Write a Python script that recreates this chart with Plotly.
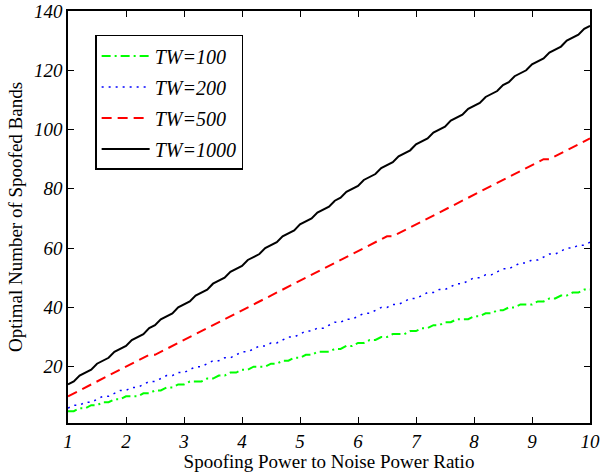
import numpy as np
import plotly.graph_objects as go

# x grid (Spoofing Power to Noise Power Ratio)
snr = np.round(np.arange(1.0, 10.0001, 0.1), 1)

tw100 = [5, 5, 6, 6, 7, 7, 8, 8, 9, 9,
         10, 10, 10, 11, 11, 12, 12, 13, 13, 14,
         14, 15, 15, 15, 16, 16, 17, 17, 18, 18,
         19, 19, 20, 20, 20, 21, 21, 22, 22, 23,
         23, 24, 24, 25, 25, 25, 26, 26, 27, 27,
         28, 28, 29, 29, 30, 30, 31, 31, 31, 32,
         32, 33, 33, 34, 34, 35, 35, 36, 36, 36,
         37, 37, 38, 38, 39, 39, 40, 40, 41, 41,
         41, 42, 42, 43, 43, 44, 44, 45, 45, 46, 46]
tw200 = [6, 7, 7, 8, 8, 9, 10, 10, 11, 12,
         12, 13, 13, 14, 15, 15, 16, 17, 17, 18,
         18, 19, 20, 20, 21, 22, 22, 23, 23, 24,
         25, 25, 26, 27, 27, 28, 28, 29, 30, 30,
         31, 32, 32, 33, 33, 34, 35, 35, 36, 36,
         37, 38, 38, 39, 40, 40, 41, 41, 42, 43,
         43, 44, 45, 45, 46, 46, 47, 48, 48, 49,
         50, 50, 51, 51, 52, 53, 53, 54, 55, 55,
         56, 56, 57, 58, 58, 59, 60, 60, 61, 61, 62]
tw500 = [10, 11, 12, 13, 14, 15, 16, 17, 18, 19,
         20, 21, 22, 23, 24, 24, 25, 26, 27, 28,
         29, 30, 31, 32, 33, 34, 35, 36, 37, 38,
         39, 40, 41, 42, 43, 44, 45, 46, 47, 48,
         49, 50, 51, 52, 53, 54, 55, 56, 57, 58,
         59, 60, 61, 62, 63, 64, 64, 65, 66, 67,
         68, 69, 70, 71, 72, 73, 74, 75, 76, 77,
         78, 79, 80, 81, 82, 83, 84, 85, 86, 87,
         88, 89, 90, 90, 91, 92, 93, 94, 95, 96, 97]
tw1000 = [14, 15, 17, 18, 19, 21, 22, 23, 25, 26,
          27, 29, 30, 31, 33, 34, 36, 37, 38, 40,
          41, 42, 44, 45, 46, 48, 49, 50, 52, 53,
          54, 56, 57, 58, 60, 61, 62, 64, 65, 66,
          68, 69, 70, 72, 73, 74, 76, 77, 79, 80,
          81, 83, 84, 85, 87, 88, 89, 91, 92, 93,
          95, 96, 97, 99, 100, 101, 103, 104, 105, 107,
          108, 109, 111, 112, 113, 115, 116, 118, 119, 120,
          122, 123, 124, 126, 127, 128, 130, 131, 132, 134, 135]

names = ["TW=100", "TW=200", "TW=500", "TW=1000"]
series = [tw100, tw200, tw500, tw1000]
colors = ["#00ff00", "#0000ff", "#ff0000", "#000000"]
dashes = ["9px,4px,2px,4px", "2px,5px", "10px,6px", "solid"]
widths = [2, 1.5, 2, 2]

xticks = [1, 2, 3, 4, 5, 6, 7, 8, 9, 10]
yticks = [20, 40, 60, 80, 100, 120, 140]

FONT = "Liberation Serif"

fig = go.Figure()
for i, (n, s, c, d, w) in enumerate(zip(names, series, colors, dashes, widths)):
    fig.add_trace(go.Scatter(x=snr, y=s, mode="lines", name=n,
                             legendgroup=f"g{i}",
                             line=dict(color=c, dash=d, width=w)))

axis_common = dict(showline=True, linecolor="black", linewidth=1.5,
                   mirror="ticks", ticks="inside", ticklen=6,
                   tickcolor="black", tickwidth=1, showgrid=False,
                   zeroline=False, automargin=False,
                   tickfont=dict(family=FONT, size=19, color="black", style="italic"))

fig.update_layout(
    width=600, height=472,
    margin=dict(l=68, r=10, t=11, b=49),
    paper_bgcolor="white", plot_bgcolor="white",
    font=dict(family=FONT, color="black"),
    xaxis=dict(range=[1, 10], tickvals=xticks,
               title=dict(text="Spoofing Power to Noise Power Ratio",
                          font=dict(family=FONT, size=19), standoff=0),
               **axis_common),
    yaxis=dict(range=[1, 140], tickvals=yticks,
               title=dict(text="Optimal Number of Spoofed Bands",
                          font=dict(family=FONT, size=19), standoff=6),
               **axis_common),
    legend=dict(x=0.052, y=0.942, xanchor="left", yanchor="top",
                bgcolor="white", bordercolor="black", borderwidth=1.5,
                font=dict(family=FONT, size=20, style="italic"),
                itemwidth=48,
                traceorder="grouped", tracegroupgap=2),
    showlegend=True,
)

fig.write_html("out.html")
